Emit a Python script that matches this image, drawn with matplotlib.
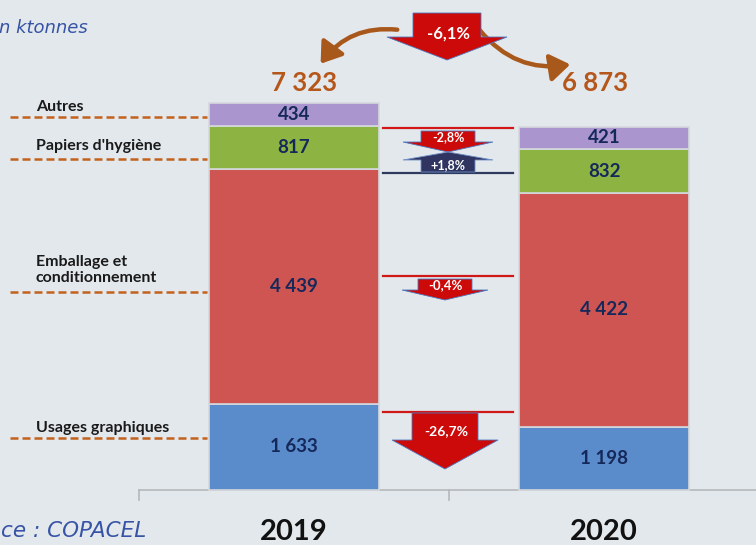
import matplotlib
matplotlib.use("Agg")
import matplotlib.pyplot as plt
from matplotlib.patches import Polygon, FancyArrowPatch
import numpy as np

years = ["2019", "2020"]
categories = ["Usages graphiques", "Emballage et\nconditionnement", "Papiers d'hygiène", "Autres"]
values_2019 = [1633, 4439, 817, 434]
values_2020 = [1198, 4422, 832, 421]
totals = ["7 323", "6 873"]
total_change = "-6,1%"
changes = ["-26,7%", "-0,4%", "-2,8%", "+1,8%"]
value_labels_2019 = ["1 633", "4 439", "817", "434"]
value_labels_2020 = ["1 198", "4 422", "832", "421"]
unit_text = "n ktonnes"        # visible (left-cropped) part of the original caption
source_text = "ce : COPACEL"   # visible (left-cropped) part of the original source line

colors = ["#5a8bca", "#cf5553", "#8db443", "#ab95cf"]
BG = "#e3e8ec"
FONT = ["Lato", "DejaVu Sans"]

fig = plt.figure(figsize=(7.56, 5.45), dpi=100)
fig.patch.set_facecolor(BG)

# main data axes
ax = fig.add_axes([0, 0, 1, 1])
ax.set_facecolor("none")
s = 387 / 7323.0  # px per ktonne
ax.set_xlim(-294 / 310.0, (756 - 294) / 310.0)
ax.set_ylim(-55 / s, 490 / s)
ax.axis("off")

x = np.arange(len(years))
bottom = np.zeros(2)
series = np.array([values_2019, values_2020])
lbls = [value_labels_2019, value_labels_2020]
for i, c in enumerate(categories):
    vals = series[:, i]
    ax.bar(x, vals, width=0.55, bottom=bottom, color=colors[i],
           edgecolor="#d5d9dd", linewidth=1.2, zorder=2)
    for j in range(2):
        ax.text(x[j], bottom[j] + vals[j] / 2, lbls[j][i], ha="center", va="center",
                fontsize=13.5, fontweight="bold", color="#15285a", family=FONT, zorder=4)
    bottom = bottom + vals

# axis line and ticks
ax.plot([-0.5, 1.6], [0, 0], color="#b5b8bb", lw=1.2, zorder=1, clip_on=False)
for tx in [-0.5, 0.5, 1.5]:
    ax.plot([tx, tx], [0, -10 / s], color="#b5b8bb", lw=1.2, zorder=1)

# overlay axes in pixel coordinates for annotations
ov = fig.add_axes([0, 0, 1, 1])
ov.set_xlim(0, 756)
ov.set_ylim(545, 0)
ov.axis("off")
ov.set_facecolor("none")

# totals
ov.text(304, 83, totals[0], ha="center", va="center", fontsize=18.5, fontweight="bold",
        color="#b5561a", family=FONT)
ov.text(595, 83, totals[1], ha="center", va="center", fontsize=18.5, fontweight="bold",
        color="#b5561a", family=FONT)

# curved arrows
brown = "#a9581c"
a1 = FancyArrowPatch((400, 30), (319, 66), connectionstyle="arc3,rad=0.3",
                     arrowstyle="-|>,head_length=8,head_width=5.5", color=brown, lw=3.2, mutation_scale=1.5)
a2 = FancyArrowPatch((478, 28), (573, 64), connectionstyle="arc3,rad=0.3",
                     arrowstyle="-|>,head_length=8,head_width=5.5", color=brown, lw=3.2, mutation_scale=1.5)
ov.add_patch(a1)
ov.add_patch(a2)


def down_arrow(cx, y0, y1, half_w, head_half, tip, color, edge="#4a78c0"):
    pts = [(cx - half_w, y0), (cx + half_w, y0), (cx + half_w, y1), (cx + head_half, y1),
           (cx, tip), (cx - head_half, y1), (cx - half_w, y1)]
    ov.add_patch(Polygon(pts, closed=True, facecolor=color, edgecolor=edge, lw=0.6, zorder=5))


def up_arrow(cx, y0, y1, half_w, head_half, tip, color):
    pts = [(cx - half_w, y0), (cx + half_w, y0), (cx + half_w, y1), (cx + head_half, y1),
           (cx, tip), (cx - head_half, y1), (cx - half_w, y1)]
    ov.add_patch(Polygon(pts, closed=True, facecolor=color, edgecolor="#6f8fc8", lw=0.6, zorder=5))


red = "#cc0a0a"
navy = "#2f3560"
# big top arrow
down_arrow(447, 13, 37, 34, 60, 60, red)
ov.text(448, 34, total_change, ha="center", va="center", fontsize=12, fontweight="bold",
        color="white", family=FONT, zorder=6)

# lines for middle arrows
ov.plot([383, 513], [128, 128], color="#d01818", lw=1.6)
ov.plot([383, 513], [173, 173], color="#2d3a5e", lw=1.6)
ov.plot([383, 513], [276, 276], color="#d01818", lw=1.6)
ov.plot([383, 513], [412, 412], color="#d01818", lw=1.6)

# -2,8%
down_arrow(448, 131, 142, 27, 45, 152, red)
ov.text(448, 137, changes[2], ha="center", va="center", fontsize=9, fontweight="bold",
        color="white", family=FONT, zorder=7)
# +1,8%
up_arrow(448, 172, 160, 27, 45, 152, navy)
ov.text(448, 165.5, changes[3], ha="center", va="center", fontsize=9, fontweight="bold",
        color="white", family=FONT, zorder=7)
# -0,4%
down_arrow(445, 279, 290, 27, 43, 300, red)
ov.text(445, 285, changes[1], ha="center", va="center", fontsize=9.5, fontweight="bold",
        color="white", family=FONT, zorder=7)
# -26,7%
down_arrow(445, 413, 440, 33, 53, 469, red)
ov.text(446, 431, changes[0], ha="center", va="center", fontsize=10, fontweight="bold",
        color="white", family=FONT, zorder=7)

# left labels and dashed lines
dash_col = "#c2621d"
label_pos = [(428, 438), (270, 292), (146, 159), (107, 117)]
for name, (ty, ly) in zip(categories, label_pos):
    ov.text(36, ty, name, ha="left", va="center", fontsize=11.5, fontweight="bold",
            color="#1a1a1a", family=FONT, linespacing=1.25)
    ov.plot([10, 207], [ly, ly], color=dash_col, lw=1.8, ls=(0, (3.2, 1.6)))

# year labels
for xi, yr in zip(x, years):
    ax.text(xi, -42 / s, yr, ha="center", va="center", fontsize=21, fontweight="bold",
            color="#111111", family=FONT)

# source and unit texts
ov.text(1, 537, source_text, ha="left", va="baseline", fontsize=15.5,
        style="italic", color="#3653a6", family=["DejaVu Sans"])
ov.text(88, 33, unit_text, ha="right", va="baseline", fontsize=13,
        style="italic", color="#3653a6", family=["DejaVu Sans"])

fig.savefig("out.png", dpi=100, facecolor=BG)
